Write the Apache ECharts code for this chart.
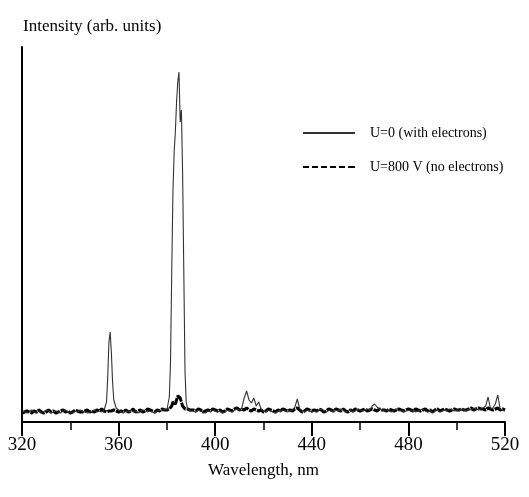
<!DOCTYPE html>
<html>
<head>
<meta charset="utf-8">
<script src="https://cdn.jsdelivr.net/npm/echarts@6/dist/echarts.min.js"></script>
<style>
  html, body { margin: 0; padding: 0; background: #fff; }
  #chart { width: 529px; height: 497px; }
</style>
</head>
<body>
<div id="chart"></div>
<script>
// Emission spectrum: wavelength grid (nm), finer around the two strong lines
var wavelength = [
  320,321,322,323,324,325,326,327,328,329,330,331,332,333,334,335,336,337,338,339,
  340,341,342,343,344,345,346,347,348,349,350,351,352,353,
  354,355,355.5,356,356.5,357,357.5,358,359,360,
  361,362,363,364,365,366,367,368,369,370,371,372,373,374,375,376,377,378,379,
  380,380.5,381,381.5,382,382.5,383,383.5,384,384.5,385,385.5,386,386.5,387,387.5,388,388.5,389,389.5,390,
  391,392,393,394,395,396,397,398,399,400,
  401,402,403,404,405,406,407,408,409,410,
  411,412,413,414,415,416,417,418,419,420,
  421,422,423,424,425,426,427,428,429,430,
  431,432,433,434,435,436,437,438,439,440,
  441,442,443,444,445,446,447,448,449,450,
  451,452,453,454,455,456,457,458,459,460,
  461,462,463,464,465,466,467,468,469,470,
  471,472,473,474,475,476,477,478,479,480,
  481,482,483,484,485,486,487,488,489,490,
  491,492,493,494,495,496,497,498,499,500,
  501,502,503,504,505,506,507,508,509,510,
  511,512,513,514,515,516,517,518,519,520
];

// U=0 (with electrons)
var intensityWithElectrons = [
  10,11,9,10,12,10,9,11,10,10,12,11,9,10,11,10,9,11,12,10,
  10,9,11,10,12,11,10,9,10,11,12,10,11,10,
  12,20,45,80,90,70,40,22,14,12,
  10,9,11,10,12,10,11,9,10,12,11,10,11,10,9,11,12,11,13,
  12,14,25,60,150,230,270,290,320,340,350,300,312,250,150,50,20,14,12,11,11,
  11,10,12,11,10,9,11,10,12,11,
  10,11,9,10,12,11,10,12,13,12,
  14,24,31,22,19,24,16,20,13,11,
  10,12,11,10,9,11,10,12,11,10,
  11,12,15,23,13,11,10,12,11,10,
  11,10,12,13,11,10,12,11,10,12,
  11,13,12,10,11,12,10,11,13,12,
  11,12,13,12,16,18,15,13,12,11,
  12,11,10,12,13,11,12,10,11,12,
  11,12,10,11,12,13,11,10,12,9,
  11,12,10,11,12,11,13,12,11,12,
  11,13,12,11,13,12,14,13,12,13,
  14,16,25,13,14,18,27,13,12,11
];

// U=800 V (no electrons)
var intensityNoElectrons = [
  9,10,11,10,9,11,10,12,10,9,10,12,10,11,9,10,11,12,10,11,
  9,10,12,11,10,10,11,12,10,11,10,12,11,13,
  11,10,12,11,10,11,10,12,11,10,
  11,10,12,10,11,13,10,11,12,10,11,13,12,11,10,12,11,13,12,
  12,11,13,14,16,20,21,18,22,26,28,24,20,16,14,13,12,13,11,12,11,
  12,11,13,12,10,11,12,11,13,12,
  11,12,10,11,13,12,11,13,14,12,
  13,12,14,12,11,13,12,11,12,10,
  11,13,12,11,10,12,11,13,12,11,
  12,11,13,14,12,10,11,13,12,11,
  12,11,13,12,10,11,13,12,11,13,
  12,11,13,11,10,12,11,13,12,11,
  12,13,11,12,13,12,11,13,12,12,
  11,13,12,11,12,13,12,11,12,13,
  12,11,13,12,11,12,13,11,12,10,
  12,13,11,12,13,12,11,12,13,12,
  12,13,12,12,13,14,12,13,14,13,
  13,12,14,13,12,13,14,12,13,12
];

var seriesNames = ['U=0 (with electrons)', 'U=800 V (no electrons)'];

// Legend keys: a plain stroke and a row of dashes, both 52 x 2
var solidKey = 'path://M0,0h52v2h-52z';
var dashedKey = 'path://M0,0h6v2h-6z M9,0h6v2h-6z M18,0h6v2h-6z M27,0h6v2h-6z M36,0h6v2h-6z M45,0h7v2h-7z';

function pairs(ys) {
  return wavelength.map(function (w, i) { return [w, ys[i]]; });
}

var serif = '"Liberation Serif", "DejaVu Serif", serif';
var chart = echarts.init(document.getElementById('chart'), null, { renderer: 'canvas' });

chart.setOption({
  animation: false,
  backgroundColor: '#fff',
  title: {
    text: 'Intensity (arb. units)',
    left: 18, top: 13,
    textStyle: { fontFamily: serif, fontSize: 17, fontWeight: 'normal', color: '#000' }
  },
  legend: {
    orient: 'vertical',
    left: 298, top: 121,
    itemWidth: 52, itemHeight: 2, itemGap: 20,
    data: [
      { name: seriesNames[0], icon: solidKey, itemStyle: { color: '#333' } },
      { name: seriesNames[1], icon: dashedKey, itemStyle: { color: '#000' } }
    ],
    textStyle: { fontFamily: serif, fontSize: 14, color: '#000', padding: [0, 0, 0, 10] }
  },
  grid: { left: 22, right: 24, top: 47, bottom: 75 },
  xAxis: {
    type: 'value',
    min: 320, max: 520, interval: 40,
    name: 'Wavelength, nm',
    nameLocation: 'middle', nameGap: 40,
    nameTextStyle: { fontFamily: serif, fontSize: 17, color: '#000' },
    axisLine: { lineStyle: { color: '#000', width: 2 } },
    axisTick: { inside: false, length: 14, lineStyle: { color: '#000', width: 2 } },
    minorTick: { show: true, splitNumber: 2, length: 8, lineStyle: { color: '#000', width: 1.5 } },
    axisLabel: { fontFamily: serif, fontSize: 19, color: '#000', margin: 14 },
    splitLine: { show: false }
  },
  yAxis: {
    type: 'value',
    min: 0, max: 375,
    axisLine: { show: true, lineStyle: { color: '#000', width: 2 } },
    axisTick: { show: false },
    axisLabel: { show: false },
    splitLine: { show: false }
  },
  series: [
    {
      name: seriesNames[0],
      type: 'line',
      data: pairs(intensityWithElectrons),
      symbol: 'none',
      z: 3,
      lineStyle: { color: '#333', width: 1.1 },
      itemStyle: { color: '#333' }
    },
    {
      name: seriesNames[1],
      type: 'line',
      data: pairs(intensityNoElectrons),
      symbol: 'none',
      z: 2,
      lineStyle: { color: '#000', width: 3, type: [8, 1] },
      itemStyle: { color: '#000' }
    }
  ]
});
</script>
</body>
</html>
